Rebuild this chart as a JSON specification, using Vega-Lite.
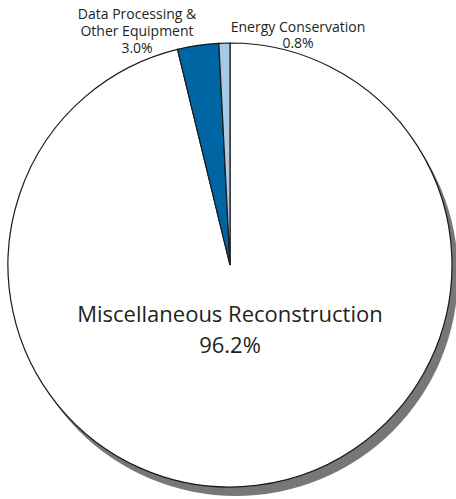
{
  "$schema": "https://vega.github.io/schema/vega-lite/v6.json",
  "width": 460,
  "height": 530,
  "padding": 0,
  "autosize": {"type": "none"},
  "background": "white",
  "config": {"view": {"stroke": null}},
  "data": {
    "values": [
      {"category": "Miscellaneous Reconstruction", "value": 96.2, "label": "Miscellaneous Reconstruction\n96.2%"},
      {"category": "Data Processing & Other Equipment", "value": 3.0, "label": "Data Processing &\nOther Equipment\n3.0%"},
      {"category": "Energy Conservation", "value": 0.8, "label": "Energy Conservation\n0.8%"}
    ]
  },
  "layer": [
    {
      "transform": [{"filter": "datum.category == 'Miscellaneous Reconstruction'"}],
      "mark": {"type": "arc", "radius": 222, "color": "#77777a", "xOffset": 6, "yOffset": 9},
      "encoding": {}
    },
    {
      "mark": {"type": "arc", "radius": 222, "stroke": "#1a1a1a", "strokeWidth": 1.2},
      "encoding": {
        "theta": {"field": "value", "type": "quantitative", "stack": true},
        "order": {"field": "value", "type": "quantitative", "sort": "descending"},
        "color": {
          "field": "category",
          "type": "nominal",
          "scale": {
            "domain": ["Miscellaneous Reconstruction", "Data Processing & Other Equipment", "Energy Conservation"],
            "range": ["#ffffff", "#0066a3", "#a9c9e2"]
          },
          "legend": null
        }
      }
    },
    {
      "transform": [{"filter": "datum.category == 'Miscellaneous Reconstruction'"}],
      "mark": {"type": "text", "align": "center", "baseline": "alphabetic", "font": "Open Sans", "fontSize": 22, "lineHeight": 31, "lineBreak": "\n", "dx": 0, "dy": 57, "color": "#231f20"},
      "encoding": {"text": {"field": "label"}}
    },
    {
      "transform": [{"filter": "datum.category == 'Data Processing & Other Equipment'"}],
      "mark": {"type": "text", "align": "center", "baseline": "alphabetic", "font": "Open Sans", "fontSize": 14, "lineHeight": 17, "lineBreak": "\n", "dx": -93, "dy": -246, "color": "#231f20"},
      "encoding": {"text": {"field": "label"}}
    },
    {
      "transform": [{"filter": "datum.category == 'Energy Conservation'"}],
      "mark": {"type": "text", "align": "center", "baseline": "alphabetic", "font": "Open Sans", "fontSize": 14, "lineHeight": 16, "lineBreak": "\n", "dx": 68, "dy": -233, "color": "#231f20"},
      "encoding": {"text": {"field": "label"}}
    }
  ]
}
